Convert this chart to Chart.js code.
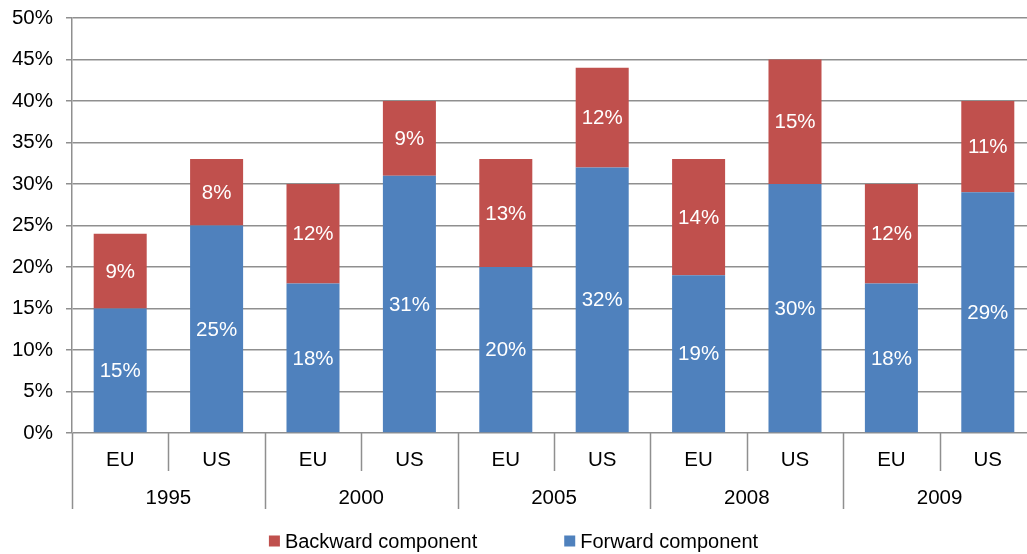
<!DOCTYPE html>
<html>
<head>
<meta charset="utf-8">
<script src="https://cdn.jsdelivr.net/npm/chart.js@4/dist/chart.umd.min.js"></script>
<style>
  html, body { margin: 0; padding: 0; overflow: hidden; background: #fff; }
  #wrap { width: 1036px; height: 554px; }
</style>
</head>
<body>
<div id="wrap"><canvas id="chart" width="1036" height="554"></canvas></div>
<script>
// Components by region and year
const regions = ['EU', 'US', 'EU', 'US', 'EU', 'US', 'EU', 'US', 'EU', 'US'];
const years = ['1995', '2000', '2005', '2008', '2009'];
const forward = [15, 25, 18, 31, 20, 32, 19, 30, 18, 29];
const backward = [9, 8, 12, 9, 13, 12, 14, 15, 12, 11];
const yTicks = [0, 5, 10, 15, 20, 25, 30, 35, 40, 45, 50];

const FONT = 'Liberation Sans, Arial, sans-serif';
const gridColor = '#8f8f8f';

// labels inside each bar segment + grouped x axis + legend
const extras = {
  id: 'extras',
  afterDatasetsDraw(chart) {
    const ctx = chart.ctx;
    ctx.save();
    ctx.fillStyle = '#fff';
    ctx.font = '20.5px ' + FONT;
    ctx.textAlign = 'center';
    ctx.textBaseline = 'middle';
    chart.data.datasets.forEach((ds, di) => {
      chart.getDatasetMeta(di).data.forEach((bar, i) => {
        ctx.fillText(ds.data[i] + '%', bar.x, (bar.y + bar.base) / 2 + 1);
      });
    });
    ctx.restore();
  },
  afterDraw(chart) {
    const ctx = chart.ctx;
    const xs = chart.scales.x;
    const area = chart.chartArea;
    const half = (xs.getPixelForValue(1) - xs.getPixelForValue(0)) / 2;
    ctx.save();
    // separators under the axis
    ctx.strokeStyle = gridColor;
    ctx.lineWidth = 1.5;
    for (let i = 0; i <= regions.length; i++) {
      const x = Math.round(xs.getPixelForValue(0) - half + i * half * 2) + 0.5;
      ctx.beginPath();
      ctx.moveTo(x, area.bottom);
      ctx.lineTo(x, i % 2 === 0 ? 509 : 471);
      ctx.stroke();
    }
    ctx.fillStyle = '#000';
    ctx.font = '20.5px ' + FONT;
    ctx.textAlign = 'center';
    ctx.textBaseline = 'middle';
    regions.forEach((r, i) => ctx.fillText(r, xs.getPixelForValue(i), 460));
    years.forEach((y, g) => {
      const x = (xs.getPixelForValue(g * 2) + xs.getPixelForValue(g * 2 + 1)) / 2;
      ctx.fillText(y, x, 498);
    });

    // legend
    ctx.font = '20px ' + FONT;
    ctx.textAlign = 'left';
    const items = [chart.data.datasets[1], chart.data.datasets[0]];
    const box = 11, gap = 5, spacing = 87;
    const widths = items.map(d => box + gap + ctx.measureText(d.label).width);
    const total = widths.reduce((a, b) => a + b, 0) + spacing;
    let lx = 1027 / 2 - total / 2;
    const ly = 541;
    items.forEach((d, k) => {
      ctx.fillStyle = d.backgroundColor;
      ctx.fillRect(lx, ly - box / 2, box, box);
      ctx.fillStyle = '#000';
      ctx.fillText(d.label, lx + box + gap, ly + 1);
      lx += widths[k] + spacing;
    });
    ctx.restore();
  }
};

new Chart(document.getElementById('chart'), {
  type: 'bar',
  data: {
    labels: regions,
    datasets: [
      { label: 'Forward component', data: forward, backgroundColor: '#4F81BD' },
      { label: 'Backward component', data: backward, backgroundColor: '#C0504D' }
    ]
  },
  options: {
    responsive: false,
    animation: false,
    layout: { padding: { top: 18, left: 0, right: 0, bottom: 0 } },
    datasets: { bar: { barPercentage: 0.55, categoryPercentage: 1 } },
    plugins: { legend: { display: false }, tooltip: { enabled: false } },
    scales: {
      x: {
        stacked: true,
        ticks: { display: false },
        grid: { display: false },
        border: { display: false },
        afterFit(scale) { scale.height = 121; }
      },
      y: {
        stacked: true,
        min: 0,
        max: 50,
        afterBuildTicks(scale) { scale.ticks = yTicks.map(v => ({ value: v })); },
        afterFit(scale) {
          scale.width = 72;
          scale.paddingTop = 0;
          scale.paddingBottom = 0;
        },
        ticks: {
          color: '#000',
          padding: 13,
          font: { family: FONT, size: 20.5 },
          callback: v => v + '%'
        },
        grid: { color: gridColor, lineWidth: 1.5, tickLength: 6 },
        border: { display: true, color: gridColor, width: 1.5 }
      }
    }
  },
  plugins: [extras]
});
</script>
</body>
</html>
